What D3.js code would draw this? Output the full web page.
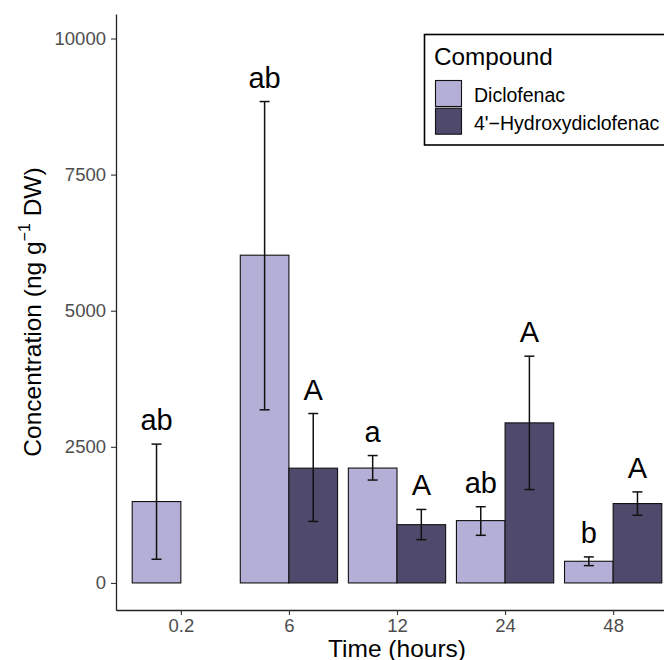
<!DOCTYPE html>
<html>
<head>
<meta charset="utf-8">
<script src="https://cdn.jsdelivr.net/npm/d3@7"></script>
<style>
  body { margin: 0; background: #fff; }
  svg { display: block; font-family: "Liberation Sans", Arial, sans-serif; }
</style>
</head>
<body>
<div id="chart"></div>
<script>
const times = ["0.2", "6", "12", "24", "48"];
const compounds = ["Diclofenac", "4'\u2212Hydroxydiclofenac"];
const colors = ["#b3afd6", "#4f4a6b"];

const diclofenacMean = [1495, 6020, 2110, 1145, 398];
const diclofenacLow = [435, 3180, 1890, 875, 318];
const diclofenacHigh = [2550, 8842, 2340, 1400, 478];
const diclofenacLetters = ["ab", "ab", "a", "ab", "b"];

const hydroxyMean = [null, 2108, 1070, 2940, 1458];
const hydroxyLow = [null, 1130, 795, 1715, 1243];
const hydroxyHigh = [null, 3112, 1350, 4165, 1672];
const hydroxyLetters = [null, "A", "A", "A", "A"];

const yTicks = [0, 2500, 5000, 7500, 10000];

// flatten into rows for drawing
let rows = [];
times.forEach((t, i) => {
    rows.push({ time: t, compound: compounds[0], mean: diclofenacMean[i], low: diclofenacLow[i], high: diclofenacHigh[i], letter: diclofenacLetters[i] });
    if (hydroxyMean[i] !== null) {
        rows.push({ time: t, compound: compounds[1], mean: hydroxyMean[i], low: hydroxyLow[i], high: hydroxyHigh[i], letter: hydroxyLetters[i] });
    }
});

const width = 664, height = 660;
const margin = { left: 116, right: 678, top: 14, bottom: 610 };

const svg = d3.select("#chart")
    .append("svg")
    .attr("width", width)
    .attr("height", height);

const x = d3.scalePoint()
    .domain(times)
    .range([margin.left, margin.right])
    .padding(0.6);

const half = x.step() * 0.45;
const xSub = d3.scaleBand()
    .domain(compounds)
    .range([-half, half]);

const y = d3.scaleLinear()
    .domain([-497, 10450])
    .range([margin.bottom, margin.top]);

const color = d3.scaleOrdinal()
    .domain(compounds)
    .range(colors);

// bars
svg.selectAll(".bar")
    .data(rows)
    .enter()
    .append("rect")
    .attr("class", "bar")
    .attr("x", d => x(d.time) + xSub(d.compound))
    .attr("width", xSub.bandwidth())
    .attr("y", d => y(d.mean))
    .attr("height", d => y(0) - y(d.mean))
    .attr("fill", d => color(d.compound))
    .attr("stroke", "#111")
    .attr("stroke-width", 1.1);

// error bars
const cx = d => x(d.time) + xSub(d.compound) + xSub.bandwidth() / 2;
const err = svg.append("g")
    .attr("stroke", "#111")
    .attr("stroke-width", 1.5);

err.selectAll(".stem")
    .data(rows)
    .enter()
    .append("line")
    .attr("x1", cx).attr("x2", cx)
    .attr("y1", d => y(d.low)).attr("y2", d => y(d.high));

["low", "high"].forEach(k => {
    err.selectAll(".cap-" + k)
        .data(rows)
        .enter()
        .append("line")
        .attr("x1", d => cx(d) - 5).attr("x2", d => cx(d) + 5)
        .attr("y1", d => y(d[k])).attr("y2", d => y(d[k]));
});

// significance letters
svg.selectAll(".letter")
    .data(rows)
    .enter()
    .append("text")
    .attr("x", cx)
    .attr("y", d => y(d.high) - 14)
    .attr("text-anchor", "middle")
    .attr("font-size", 29)
    .attr("fill", "#000")
    .text(d => d.letter);

// y axis
const yAxis = svg.append("g")
    .attr("transform", `translate(${margin.left},0)`)
    .call(d3.axisLeft(y).tickValues(yTicks).tickFormat(d3.format("d")).tickSize(5).tickPadding(5).tickSizeOuter(0));
yAxis.select(".domain").attr("stroke", "#222").attr("stroke-width", 1.3);
yAxis.selectAll(".tick line").attr("stroke", "#333").attr("stroke-width", 1.1);
yAxis.selectAll(".tick text")
    .attr("font-size", 18.5)
    .attr("fill", "#4d4d4d")
    .attr("font-family", "Liberation Sans, Arial, sans-serif");

// x axis
const xAxis = svg.append("g")
    .attr("transform", `translate(0,${margin.bottom})`)
    .call(d3.axisBottom(x).tickSize(5).tickPadding(4).tickSizeOuter(0));
xAxis.select(".domain").attr("stroke", "#222").attr("stroke-width", 1.3);
xAxis.selectAll(".tick line").attr("stroke", "#333").attr("stroke-width", 1.1);
xAxis.selectAll(".tick text")
    .attr("font-size", 18.5)
    .attr("fill", "#4d4d4d")
    .attr("font-family", "Liberation Sans, Arial, sans-serif");

// axis titles
svg.append("text")
    .attr("x", (margin.left + margin.right) / 2)
    .attr("y", 657)
    .attr("text-anchor", "middle")
    .attr("font-size", 24.5)
    .text("Time (hours)");

const yTitle = svg.append("text")
    .attr("transform", `translate(41,${(margin.top + margin.bottom) / 2}) rotate(-90)`)
    .attr("text-anchor", "middle")
    .attr("font-size", 24.5);
yTitle.append("tspan").text("Concentration (ng g");
yTitle.append("tspan").attr("font-size", 16).attr("dy", -11).text("\u22121");
yTitle.append("tspan").attr("dy", 11).text(" DW)");

// legend
const legend = svg.append("g");
legend.append("rect")
    .attr("x", 424.5).attr("y", 34.5)
    .attr("width", 300).attr("height", 110.5)
    .attr("fill", "#fff")
    .attr("stroke", "#000")
    .attr("stroke-width", 1.6);
legend.append("text")
    .attr("x", 434).attr("y", 65)
    .attr("font-size", 24.3)
    .text("Compound");
compounds.forEach((c, i) => {
    legend.append("rect")
        .attr("x", 435.5).attr("y", 80.5 + i * 27.7)
        .attr("width", 26).attr("height", 26)
        .attr("fill", color(c))
        .attr("stroke", "#111")
        .attr("stroke-width", 1.1);
    legend.append("text")
        .attr("x", 474).attr("y", 101.5 + i * 28.5)
        .attr("font-size", 19.5)
        .text(c);
});
</script>
</body>
</html>
